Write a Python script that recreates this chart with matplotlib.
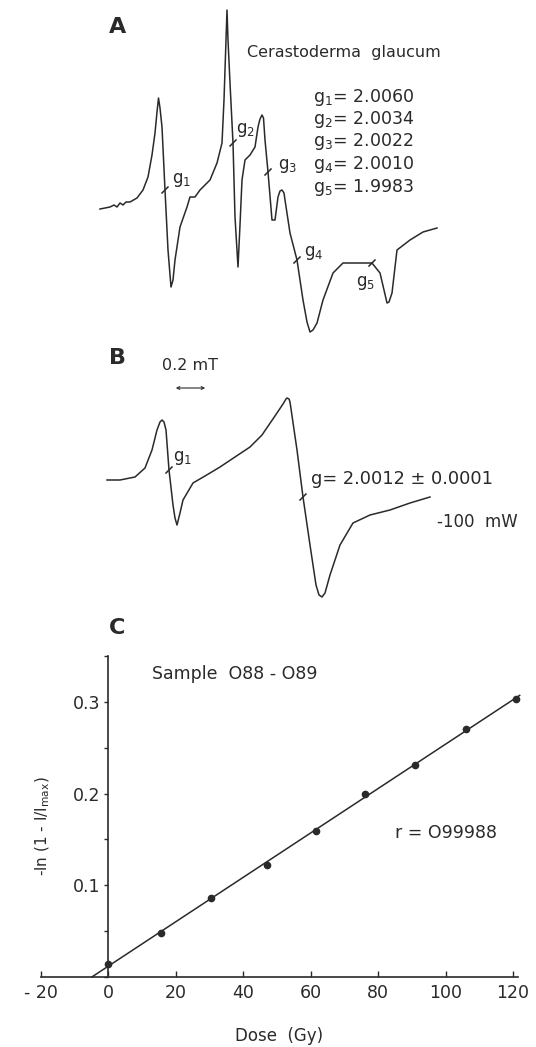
import numpy as np
import matplotlib
matplotlib.use('Agg')
import matplotlib.pyplot as plt
from matplotlib.ticker import MultipleLocator

plt.rcParams['font.family'] = ['DejaVu Sans']
plt.rcParams['mathtext.default'] = 'regular'

INK = '#2a2a2a'

# ---- panel A : EPR spectrum of Cerastoderma glaucum (traced, plot units) ----
field_a = [100, 110, 114, 117, 120, 123, 126, 130, 137, 143, 148, 152, 155, 157, 158.5,
           160, 162, 165, 168, 171, 173, 175, 180, 187, 190, 195, 200, 210, 217, 222,
           224, 226, 227, 228, 230, 233, 235, 238, 240, 242, 245, 250, 255, 258, 260,
           262, 263.5, 265, 268, 272, 275, 278, 280, 282, 284, 285, 290, 297, 303, 307,
           310, 313, 317, 323, 333, 343, 357, 372, 380, 384, 387, 389, 392, 397, 410,
           423, 437]
sig_a = [209, 207, 205, 207, 203, 205, 202, 202, 198, 190, 177, 155, 133, 112, 98,
         108, 127, 190, 250, 287, 280, 260, 227, 207, 197, 197, 190, 180, 163, 143,
         100, 40, 10, 40, 83, 143, 217, 267, 225, 180, 160, 155, 147, 127, 119,
         115, 118, 140, 172, 220, 220, 197, 191, 190, 193, 200, 233, 260, 300, 322,
         332, 330, 323, 300, 273, 263, 263, 263, 273, 290, 303, 302, 293, 250, 240,
         232, 228]
g_marks_a = [(165, 190), (233, 143), (268, 172), (297, 260), (372, 263)]
g_names = ['g$_1$', 'g$_2$', 'g$_3$', 'g$_4$', 'g$_5$']
g_values = ['2.0060', '2.0034', '2.0022', '2.0010', '1.9983']

# ---- panel B : 100 mW spectrum ----
field_b = [107, 120, 135, 145, 152, 157, 160, 162, 164, 166, 169, 173, 175, 177, 180,
           183, 193, 205, 220, 235, 250, 262, 277, 283, 286, 287, 289, 290, 297, 303,
           310, 316, 319, 322, 325, 330, 340, 353, 370, 390, 410, 430]
sig_b = [480, 480, 477, 468, 450, 430, 422, 420, 422, 430, 470, 505, 518, 525, 513,
         500, 483, 476, 467, 457, 447, 435, 413, 404, 399, 398, 399, 402, 450, 497,
         545, 585, 595, 597, 593, 575, 545, 523, 515, 510, 503, 497]
g_marks_b = [(169, 470), (303, 497)]

# ---- panel C : dose response ----
dose = [0, 15.5, 30.5, 47, 61.5, 76, 91, 106, 121]
signal = [0.014, 0.048, 0.0865, 0.1225, 0.159, 0.199, 0.2316, 0.270, 0.3036]

fig = plt.figure(figsize=(5.36, 10.47), dpi=100)

# spectra share one overlay axes in figure-pixel units
ov = fig.add_axes([0, 0, 1, 1])
ov.set_xlim(0, 536)
ov.set_ylim(1047, 0)
ov.axis('off')

ov.plot(field_a, sig_a, color=INK, lw=1.1)
ov.plot(field_b, sig_b, color=INK, lw=1.1)
for x, y in g_marks_a + g_marks_b:
    ov.plot([x - 3, x + 3], [y + 3, y - 3], color=INK, lw=1.1)

ov.text(109, 27, 'A', fontsize=16, fontweight='bold', color=INK, va='center')
ov.text(247, 52, 'Cerastoderma  glaucum', fontsize=11.5, color=INK, va='center')
for i, (n, v) in enumerate(zip(g_names, g_values)):
    ov.text(313, 97 + i * 22.5, n + '= ' + v, fontsize=12.5, color=INK, va='center')
lab_pos = [(172, 180), (236, 130), (278, 166), (304, 253), (356, 283)]
for (x, y), n in zip(lab_pos, g_names):
    ov.text(x, y, n, fontsize=12, color=INK, va='center')

ov.text(109, 358, 'B', fontsize=16, fontweight='bold', color=INK, va='center')
ov.text(162, 366, '0.2 mT', fontsize=11.5, color=INK, va='center')
ov.annotate('', xy=(173, 388), xytext=(208, 388),
            arrowprops=dict(arrowstyle='<->', color=INK, lw=0.8, mutation_scale=5))
ov.text(173, 458, 'g$_1$', fontsize=12, color=INK, va='center')
ov.text(311, 479, 'g= 2.0012 ± 0.0001', fontsize=12.8, color=INK, va='center')
ov.text(437, 522, '-100  mW', fontsize=12, color=INK, va='center')

ov.text(109, 628, 'C', fontsize=16, fontweight='bold', color=INK, va='center')

# dose response axes
ax = fig.add_axes([41 / 536, 70 / 1047, 477 / 536, 321 / 1047])
ax.set_xlim(-20, 121.5)
ax.set_ylim(0, 0.35)
fit = np.polyfit(dose, signal, 1)
xf = np.array([-fit[1] / fit[0], 122])
ax.plot(xf, np.polyval(fit, xf), color=INK, lw=1.1, clip_on=False)
ax.plot(dose, signal, 'o', color=INK, ms=4.5, clip_on=False)

for s in ['top', 'right']:
    ax.spines[s].set_visible(False)
ax.spines['left'].set_position(('data', 0))
ax.spines['left'].set_color(INK)
ax.spines['bottom'].set_color(INK)
ax.spines['left'].set_linewidth(1.2)
ax.spines['bottom'].set_linewidth(1.2)
ax.set_xticks([-20, 0, 20, 40, 60, 80, 100, 120])
ax.set_xticklabels(['- 20', '0', '20', '40', '60', '80', '100', '120'])
ax.set_yticks([0.1, 0.2, 0.3])
ax.set_yticklabels(['0.1', '0.2', '0.3'])
ax.yaxis.set_minor_locator(MultipleLocator(0.05))
ax.tick_params(axis='x', direction='in', length=4, width=1, pad=5, labelsize=12.5, colors=INK)
ax.tick_params(axis='y', which='both', direction='out', length=3, width=1, pad=3,
               labelsize=12.5, colors=INK)
ax.set_xlabel('Dose  (Gy)', fontsize=12, color=INK, labelpad=18)
ax.text(-19.5, 0.165, '-ln (1 - I/I$_{max}$)', rotation=90, fontsize=11, color=INK,
        ha='center', va='center', transform=ax.transData)
ax.text(13, 0.33, 'Sample  O88 - O89', fontsize=12.5, color=INK, va='center')
ax.text(85, 0.157, 'r = O99988', fontsize=12.5, color=INK, va='center')

fig.savefig('out.png', dpi=100, facecolor='white')
